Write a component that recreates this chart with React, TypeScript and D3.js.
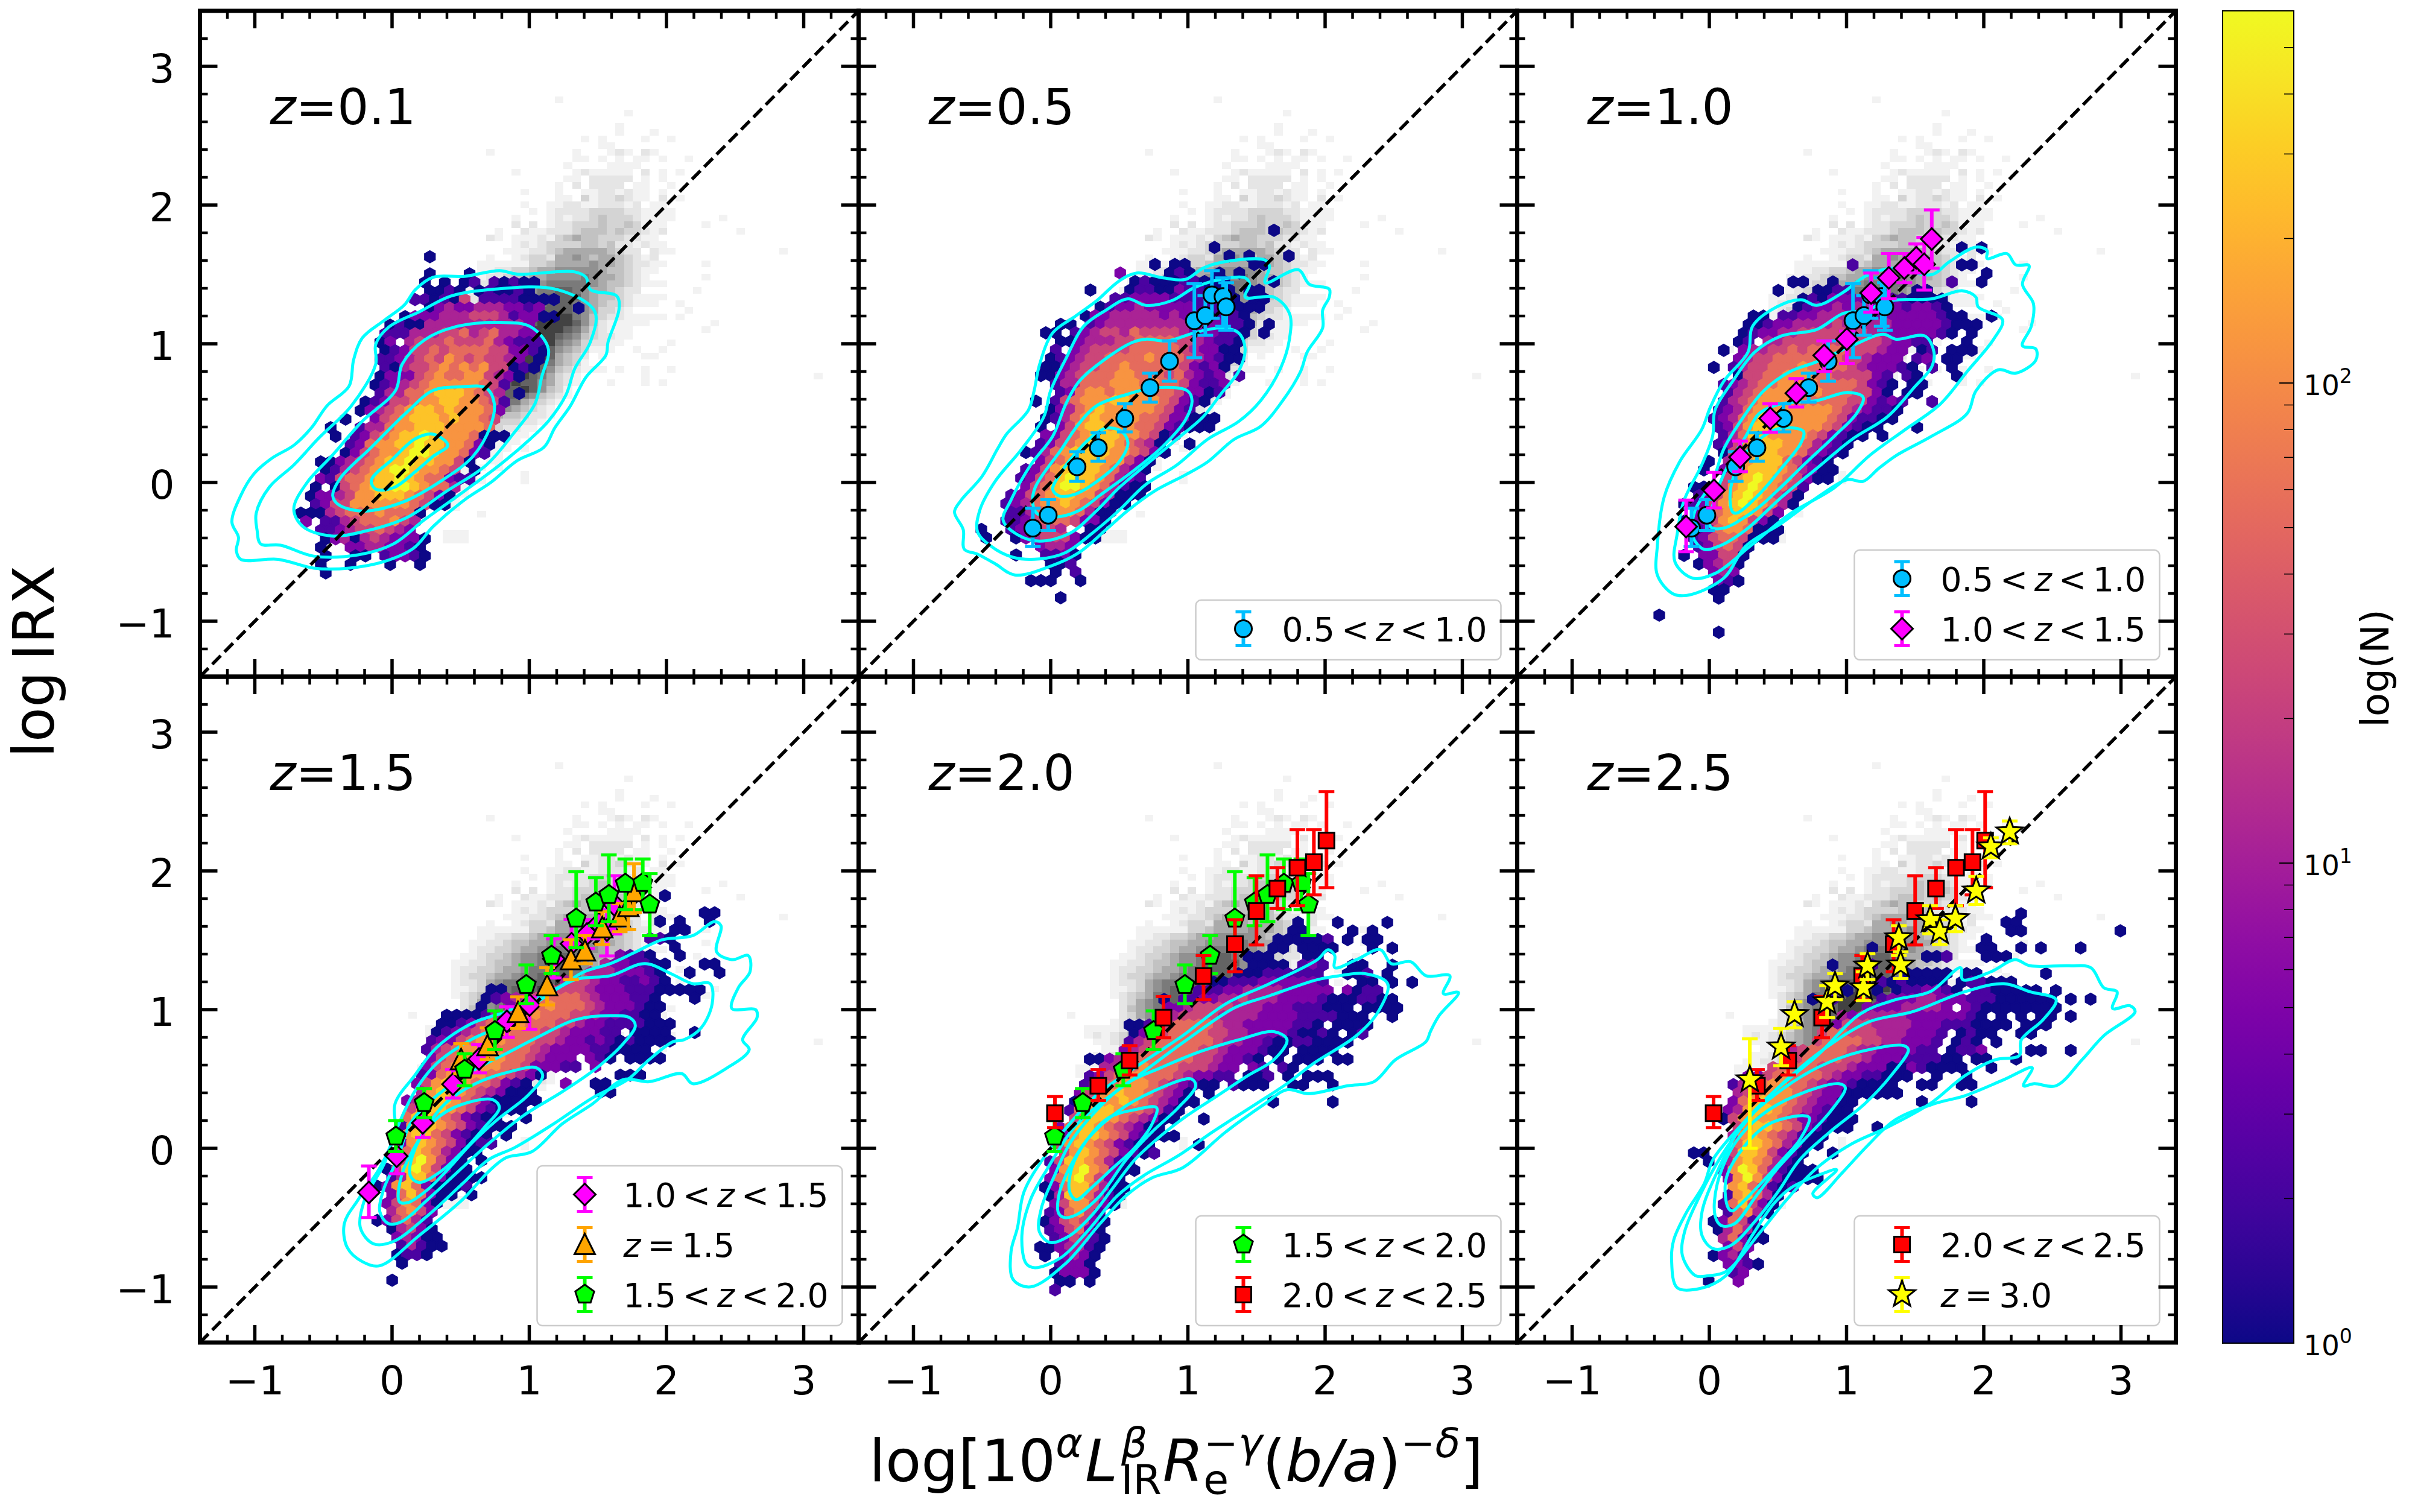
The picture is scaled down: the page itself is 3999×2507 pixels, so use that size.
import React from "react";
import * as d3 from "d3";

type Pt = [number, number];
type Err = [number, number, number, number]; // x, y, top of bar, bottom of bar

const FONT = "DejaVu Sans";

// 2d histogram in the background, one string per row, digit = density level
const grayLevels = [0, 1, 1.8, 3.2, 5.6, 10, 18, 32, 56, 120];
const grayLeft = 0.1177;
const grayTop = 2.783;
const grayDx = 0.0629;
const grayDy = 0.0474;
const grayRows = [
  ".................1",
  "",
  ".........................1",
  "",
  "........................1",
  "........................1...1",
  "....................1.1....1..1",
  "......................11",
  ".........1.........1...121.21",
  "...................11.1.1.11.1..1",
  "..................1....1111",
  "............1......1211111.2.1.1",
  "..................11.22222.1.1",
  ".................1.2.2222.11..1",
  ".............1...1..11221211.1",
  ".................11.31223211.2.1",
  ".............1..11221122212.11",
  "..............1.122223333221111",
  "............1...121223433321111.....1",
  "............2.2.12233343343111....1",
  "..........1..21122234443433212........1",
  ".........21.11121345443332211",
  "............121233334434221211",
  "...........1112234555554322.211............1",
  ".........1..12332556545543212",
  "........1111113345555655432211....1",
  "........112233455666665443211",
  ".......112234455666676554321......1",
  ".......12233455677777654432111",
  "......112334566778876554322......1",
  ".....1122344566788886544321111",
  ".....122334556778887654332111..1",
  ".....123345567788887653321......1",
  ".....1223567788889976432211111.1",
  ".....11235678889999864211111.......1",
  ".....123457788999987532111........1",
  "......23567889999876432211",
  "......2456788999976532211.....1",
  "1.....235678899986543111..1..1",
  ".....1234678899985432.1....11",
  "..1111235678899875431",
  "..121234567899986432111.1..1..1",
  "...11234567899875321.......1...................1",
  "....1134567898865321...1...1.1",
  "...1123456788986431",
  "..11223456788764321",
  ".11112345677754321",
  ".1.12234566654321",
  "..111234455443221",
  "...1112334333221",
  "....11223332211",
  ".....112222111",
  ".....1.122111",
  ".......11111.1",
  "......1.111",
  ".......1.11",
  "......111.1",
  "......11.....1",
  "......111....1",
  ".....11",
  ".....11",
  ".....1",
  ".....1",
  "........1",
  "",
  "",
  "....111",
  "....111",
];

// hexbin counts, one string per hexagon row, digit = log count level
const hexLevels = [0, 1, 2.2, 4.9, 11, 24, 54, 120, 265, 596];
const hexDx = 0.0723;
const hexDy = 0.0616;

const hexRows1 = [
  ".............1",
  "",
  ".............1...1",
  "............1.1.12.21211",
  ".............1121.121121",
  "...........221215.22221111",
  ".............134334443323...1",
  "..........1333444555423311",
  ".........121144444444443",
  "........2224445564564433",
  "........13.45556555643222",
  "........12355656666553321",
  "........223456576565543.1",
  "........2145567676755121",
  "........133356766775431",
  ".......12345677777652",
  "........2446678887654.1",
  "......123556778877652",
  "......134567887877763",
  "....1..3567888787765",
  "...1..24467788877776",
  "...1.2356788987776111",
  ".....236778898877631",
  "....135677899877632",
  "..1134567889887751",
  "..12456789987765.1",
  "..3256678898766322",
  ".1.1567889987664",
  ".133457788876531",
  ".23557777776511",
  "1114566676661",
  "3.2245666754",
  "..2234556543",
  "..13414543331",
  "..1..33443321",
  "..1..11.23321",
  "..1..1...1..1",
  "..1",
];

const hexRows2 = [
  "..............................1",
  "",
  "........................1",
  ".........................1.1...1",
  "..................1.11......11",
  "..............3....121..1.1",
  "................1211122111....1",
  "...........1...12211322111.11",
  "..............2233332222111.11",
  "............12334333332221111",
  "...........13344444343332221",
  "........11.23444444444433221.1",
  ".......11.234554655554333221.1",
  "........1134445566665543221",
  "........2.34555566666543311",
  ".......12345566667666543211",
  ".......1134556676666653231",
  "......1134566677666564323.2",
  "........244666777676653223",
  "........23677677776653312",
  "......1.2567778877765321",
  ".......134678777776532",
  ".......124678777766533111",
  "......1.3578877766532111",
  ".......33567888776512",
  "......2356788876541..1",
  ".....124678888776531",
  "......356788877531",
  ".....2357898876431",
  "....2356898876432",
  ".....3568998764211",
  "...23567887754111",
  "...2346778765311",
  "...22467776411",
  "...22356665331",
  "1..234554..11",
  ".1..134555311",
  "......3443",
  "....1..2231",
  ".......112",
  "........1.2",
  ".....111..1",
  "",
  "........1",
];

const hexRows3 = [
  "...............................1.1",
  "",
  "....................2..........11",
  ".................................1",
  "..............11..1...........2..1",
  "............1...1122......11",
  "...............121333332221111",
  "..............1233434433323321",
  "..........11.2233444433333333211..1",
  ".........112334444544444333332111",
  ".........1233445555545443333321.1",
  "........12.44555555555543322...1",
  ".......1.34455656666555433.12.111",
  "........34556666666554333.23.11",
  "......1.2455666766665433321.2.1",
  "........1556677766555532.21...1",
  ".......234566777766665321.11",
  ".......24567777776665531.11",
  ".......2456777766666553232..2",
  "......2346777777776543221",
  "......2346788877776532211",
  "......23578887777653211...1",
  ".......246887777653211.1",
  "......23578887764321",
  ".......1567887764321",
  ".....1.46788865321",
  ".....1.367888764311",
  ".......57898765311",
  "....113578987652",
  "....23578987541",
  "...123578987641",
  "....346788753",
  "...1335787531",
  "....236776111",
  "....235665111",
  "....235651",
  "...1.33551",
  "....13451",
  "......343",
  "......321",
  "......11",
  "......1",
  "",
  "1",
  "",
  "......1",
];

const hexRows4 = [
  ".............................1",
  "",
  ".................................11",
  "............................1.1..1",
  "..............................11",
  "...........................221",
  "..............................1",
  "........................3221..1",
  ".......................4332211...11",
  ".....................44433321..1..1",
  "...................45543322321",
  "...........11....5555433322211111",
  "...........123445666654333221...1",
  "..........1..3566766654333211",
  ".......1111245667666554332211",
  "......112356667666554332222111",
  "......1234566766655433322.1111..1",
  ".....2335677766655433232121111",
  ".....24567776666543333221111",
  ".....356777776654333.321.1111",
  ".....3567877766533322.3",
  "....2367777665431.......111",
  "....357877665321...3..11",
  "....478776543111......11",
  "...34888765311111",
  "...578876532111",
  "...6887653211..1",
  "..278876532111",
  "..3788653211.1",
  "..3787653122",
  "..368764311",
  "..5897531.1",
  ".158975311",
  ".2488631111",
  "1378631112",
  ".3686311.1",
  ".357631",
  ".46753",
  "135642",
  ".14531",
  "..34311",
  "..24211",
  "..1221",
  "..1",
  "",
  ".1",
];

const hexRows5 = [
  "..........................1...1....1",
  ".........................11....1.1",
  "........................111112.1.11",
  ".......................11.1111...1.1",
  ".....................111...11",
  ".....................1111.232..11..1",
  "....................111222222..112.1",
  ".................112223333332...11.1.1",
  "................22233444433333.3122",
  "............1.2233445444333321112211",
  ".............3345555444333222111.1111",
  "............345555444433332222111..1",
  ".........11235666654433333221.1111",
  ".........134566665544333321121.12",
  ".........24566666654433211221111",
  "........34566666554333211.1111",
  ".....113456666665543321.1.111.11",
  "......44667666555433.32.21",
  ".....235677666543322.112.1.111",
  "....24667776543211.2111..11..1",
  "....357787765431.1",
  "...1467787654311.......1.....1",
  "...267887665421",
  "...57887654311..1",
  "..36887654311",
  "..378876532111",
  "..5787653211....1",
  "..5787653212",
  ".258876421",
  ".378976311",
  ".36897531",
  "136886411",
  ".14886421",
  ".3577531",
  ".236752",
  "1356531",
  ".235631",
  ".235421",
  "1134421",
  "1.3431",
  "..2331",
  ".13331",
  "..11.1",
  ".2",
];

const hexRows6 = [
  ".................................1",
  "...............................11",
  "................................11.........1",
  ".............................1",
  "..................1..........11..1.1...1",
  ".......................112...111",
  "..............1...2",
  ".....................11111.11......1",
  "...................2121111.122111",
  "...............1..1.1223321.2211111.1",
  "............1.2....233344333222111111.1.1",
  ".................333344443.3211111111",
  "...............434444433333321.1.1.11.1",
  "..............355544443332221111.111",
  ".............5665554443332.1211..11",
  "............5666655443332.121.1",
  "..........456666544333322.1223....11..1",
  ".........456666554333222211.11..1",
  "........56666555433311321111..1",
  ".....33567666543322111..1..1",
  "....24567766543321111..11..11",
  "....45777765433111111",
  "....3678776543311......1....1",
  "...3478876543211",
  "...15787765332111",
  "....578876532111..1",
  "....4787654211",
  "....688764311",
  "11..58875321..1",
  ".1.47876421",
  "...3798642111",
  "...3797531111",
  "....7864212",
  "...278641",
  "...268531",
  "...26741",
  "..13652",
  "..14641",
  "...46311",
  "...353",
  "..1342",
  "...3321",
  "....23",
  ".1..3",
];

// data position of the first cell of the top hexagon row, panel by panel
const hexOrigins: Pt[] = [
  [-0.664, 1.627],
  [-0.5415, 1.818],
  [-0.401, 1.692],
  [-0.1077, 1.821],
  [-0.0769, 1.628],
  [-0.1134, 1.691],
];

// density contours
const contours1: Pt[][] = [
  [[-1.167,-.285],[-1.103,-.095],[-1.006,.063],[-.877,.174],[-.716,.268],[-.587,.395],[-.474,.553],[-.313,.695],[-.28,.885],[-.216,1.043],[-.055,1.17],[.09,1.28],[.171,1.391],[.3,1.48],[.526,1.486],[.784,1.527],[.913,1.502],[1.332,1.518],[1.413,1.48],[1.445,1.391],[1.638,1.344],[1.654,1.249],[1.574,1.012],[1.558,.917],[1.413,.759],[1.3,.553],[1.187,.395],[1.106,.253],[.913,.158],[.719,0],[.526,-.127],[.3,-.317],[.155,-.475],[-.055,-.569],[-.313,-.617],[-.571,-.617],[-.829,-.554],[-1.103,-.554],[-1.135,-.49],[-1.119,-.396]],
  [[-.99,-.222],[-.893,-.032],[-.716,.126],[-.538,.316],[-.296,.553],[-.119,.853],[-.119,.996],[-.022,1.122],[.203,1.233],[.429,1.344],[.719,1.391],[1.203,1.391],[1.477,1.233],[1.445,1.012],[1.332,.822],[1.268,.632],[1.139,.442],[1.01,.316],[.784,.126],[.526,-.063],[.236,-.269],[.01,-.443],[-.248,-.522],[-.571,-.531],[-.812,-.452],[-.958,-.443],[-.983,-.348]],
  [[-.716,-.19],[-.619,0],[-.442,.189],[-.216,.442],[.026,.664],[.074,.853],[.236,1.027],[.461,1.122],[.784,1.154],[1.01,1.122],[1.139,.964],[1.09,.759],[1.042,.569],[.881,.348],[.687,.126],[.397,-.063],[.107,-.253],[-.184,-.348],[-.442,-.386],[-.651,-.317]],
  [[-.432,-.095],[-.377,.031],[-.151,.253],[.107,.506],[.3,.664],[.494,.689],[.687,.68],[.745,.569],[.719,.411],[.59,.189],[.365,.016],[.074,-.143],[-.216,-.206],[-.393,-.158]],
  [[-.151,.016],[.01,.174],[.171,.316],[.3,.348],[.407,.269],[.3,.189],[.171,.079],[.01,-.038],[-.119,-.048]],
];
const contours2: Pt[][] = [
  [[-.701,-.213],[-.656,-.132],[-.501,.043],[-.388,.241],[-.324,.346],[-.163,.521],[-.121,.66],[-.082,.847],[.015,1.079],[.176,1.196],[.337,1.312],[.498,1.452],[.627,1.51],[.821,1.475],[.982,1.464],[1.111,1.545],[1.272,1.592],[1.563,1.603],[1.595,1.557],[1.563,1.44],[1.804,1.534],[1.885,1.429],[2.03,1.394],[2.03,1.336],[1.982,1.242],[1.982,1.114],[1.869,.94],[1.821,.8],[1.691,.59],[1.53,.404],[1.337,.311],[1.143,.148],[.982,.055],[.756,-.062],[.563,-.201],[.402,-.341],[.208,-.504],[.015,-.597],[-.259,-.667],[-.405,-.586],[-.534,-.516],[-.63,-.481],[-.637,-.341]],
  [[-.534,-.353],[-.517,-.201],[-.405,.008],[-.211,.241],[-.05,.474],[-.001,.66],[.111,.893],[.24,1.126],[.402,1.242],[.563,1.324],[.692,1.277],[.885,1.312],[1.047,1.405],[1.24,1.464],[1.417,1.475],[1.45,1.429],[1.417,1.336],[1.627,1.336],[1.74,1.219],[1.74,1.033],[1.675,.823],[1.53,.59],[1.369,.439],[1.143,.311],[.918,.125],[.692,-.015],[.498,-.201],[.305,-.364],[.111,-.504],[-.082,-.551],[-.276,-.539],[-.437,-.458]],
  [[-.347,-.271],[-.292,-.132],[-.147,.125],[.015,.334],[.111,.567],[.208,.73],[.402,.893],[.595,1.01],[.692,1.033],[.853,1.021],[1.047,1.079],[1.24,1.114],[1.369,1.079],[1.417,.963],[1.369,.8],[1.24,.637],[1.111,.474],[.918,.311],[.692,.125],[.498,-.038],[.337,-.201],[.144,-.364],[-.082,-.423],[-.243,-.376]],
  [[-.13,-.155],[-.114,-.038],[.079,.241],[.208,.427],[.337,.555],[.563,.637],[.756,.683],[.998,.66],[1.03,.59],[.982,.451],[.821,.264],[.595,.078],[.369,-.085],[.208,-.201],[.047,-.248],[-.098,-.225]],
  [[.015,-.05],[.079,.078],[.208,.241],[.305,.334],[.402,.392],[.515,.369],[.563,.288],[.498,.148],[.337,.008],[.176,-.085],[.063,-.097]],
];
const contours3: Pt[][] = [
  [[-.266,-.802],[-.379,-.667],[-.379,-.458],[-.33,-.108],[-.217,.148],[-.056,.381],[.008,.544],[.105,.73],[.282,.94],[.315,1.126],[.492,1.266],[.669,1.317],[.782,1.277],[.976,1.371],[1.137,1.487],[1.331,1.545],[1.621,1.499],[1.75,1.592],[1.943,1.697],[2.024,1.673],[2.024,1.615],[2.169,1.65],[2.233,1.569],[2.33,1.564],[2.282,1.429],[2.362,1.289],[2.346,1.126],[2.282,.986],[2.379,.963],[2.379,.881],[2.233,.788],[2.104,.812],[1.943,.66],[1.879,.497],[1.621,.334],[1.363,.195],[1.234,.101],[1.121,.008],[1.008,.02],[.75,-.132],[.524,-.295],[.266,-.458],[.105,-.69],[-.153,-.812]],
  [[-.25,-.574],[-.233,-.364],[-.185,-.132],[-.056,.125],[.024,.334],[.041,.521],[.17,.73],[.331,.94],[.524,1.056],[.782,1.103],[.976,1.219],[1.137,1.242],[1.331,1.312],[1.621,1.324],[1.846,1.382],[1.943,1.336],[1.959,1.266],[2.137,1.173],[2.072,1.033],[1.879,.8],[1.685,.567],[1.427,.381],[1.169,.195],[.911,-.038],[.589,-.225],[.299,-.458],[.041,-.656],[-.121,-.69]],
  [[-.121,-.388],[-.104,-.201],[.024,.008],[.105,.241],[.234,.451],[.395,.66],[.589,.8],[.782,.87],[1.04,.986],[1.266,1.068],[1.363,1.033],[1.572,1.056],[1.637,.94],[1.621,.835],[1.492,.684],[1.298,.474],[1.04,.311],[.782,.101],[.524,-.108],[.266,-.341],[.073,-.458],[-.04,-.481]],
  [[.008,-.318],[.041,-.108],[.137,.125],[.266,.334],[.363,.497],[.524,.567],[.782,.59],[1.008,.649],[1.121,.614],[1.073,.497],[.911,.334],[.686,.125],[.492,-.062],[.331,-.201],[.105,-.329]],
  [[.17,-.213],[.153,-.062],[.234,.171],[.395,.334],[.524,.392],[.686,.369],[.669,.288],[.524,.101],[.363,-.085],[.202,-.22]],
];
const contours4: Pt[][] = [
  [[-.348,-.543],[-.247,-.37],[-.089,-.14],[.022,.12],[.022,.322],[.164,.524],[.323,.725],[.576,.898],[.829,.985],[1.019,1.071],[1.209,1.158],[1.4,1.273],[1.589,1.331],[1.779,1.417],[1.969,1.504],[2.191,1.533],[2.349,1.634],[2.397,1.605],[2.365,1.417],[2.476,1.36],[2.596,1.389],[2.609,1.273],[2.524,1.158],[2.476,1.008],[2.65,.999],[2.66,.942],[2.555,.783],[2.603,.711],[2.444,.581],[2.191,.466],[2.112,.538],[1.874,.48],[1.684,.495],[1.463,.322],[1.241,.177],[1.019,-.024],[.829,-.068],[.703,-.168],[.513,-.37],[.196,-.63],[-.089,-.846],[-.216,-.817],[-.326,-.716]],
  [[-.231,-.572],[-.2,-.37],[-.057,-.111],[.038,.149],[.164,.408],[.323,.61],[.576,.783],[.829,.898],[1.083,1.071],[1.336,1.216],[1.589,1.244],[1.843,1.331],[2.033,1.259],[2.191,1.187],[2.318,1.187],[2.333,1.043],[2.254,.87],[2.128,.783],[2.049,.769],[1.874,.639],[1.716,.495],[1.463,.365],[1.178,.177],[.893,.005],[.703,-.082],[.513,-.255],[.259,-.486],[.006,-.673],[-.136,-.688]],
  [[-.089,-.457],[-.057,-.284],[.038,-.082],[.133,.178],[.291,.35],[.576,.552],[.829,.682],[1.083,.812],[1.336,.927],[1.589,.956],[1.732,.942],[1.773,.884],[1.684,.754],[1.494,.581],[1.241,.408],[.956,.235],[.703,.033],[.481,-.168],[.259,-.37],[.069,-.529],[-.026,-.543]],
  [[.054,-.385],[.069,-.197],[.196,.062],[.386,.322],[.608,.466],[.861,.553],[1.051,.581],[1.098,.523],[.988,.379],[.766,.206],[.576,.033],[.418,-.14],[.259,-.298],[.117,-.391]],
  [[.133,-.197],[.149,-.053],[.259,.149],[.449,.293],[.734,.351],[.782,.293],[.671,.149],[.513,-.024],[.354,-.168],[.196,-.246]],
];
const contours5: Pt[][] = [
  [[-.289,-.745],[-.242,-.572],[-.194,-.313],[-.02,-.024],[.138,.177],[.328,.379],[.613,.581],[.962,.812],[1.278,1.043],[1.595,1.187],[1.943,1.36],[2.022,1.432],[2.07,1.389],[2.07,1.302],[2.228,1.36],[2.402,1.432],[2.482,1.331],[2.624,1.345],[2.735,1.244],[2.909,1.244],[2.862,1.115],[2.972,1.123],[2.83,.956],[2.767,.841],[2.735,.769],[2.513,.639],[2.355,.48],[2.165,.451],[1.88,.394],[1.722,.423],[1.563,.322],[1.278,.12],[.962,-.14],[.74,-.212],[.55,-.341],[.36,-.543],[.107,-.832],[-.147,-.999],[-.273,-.947]],
  [[-.178,-.832],[-.21,-.63],[-.147,-.37],[-.02,-.14],[.17,.149],[.36,.322],[.677,.552],[.993,.783],[1.342,1.014],[1.595,1.1],[1.943,1.216],[2.102,1.244],[2.292,1.259],[2.456,1.187],[2.387,.985],[2.228,.812],[1.912,.61],[1.722,.466],[1.5,.322],[1.183,.12],[.93,-.053],[.677,-.197],[.487,-.341],[.265,-.601],[.075,-.788],[-.115,-.861]],
  [[-.083,-.601],[-.067,-.428],[.028,-.197],[.138,.033],[.297,.235],[.55,.466],[.803,.581],[1.088,.697],[1.373,.783],[1.627,.841],[1.722,.783],[1.627,.639],[1.437,.524],[1.215,.379],[.993,.235],[.803,.091],[.613,-.082],[.455,-.284],[.297,-.486],[.138,-.63],[-.004,-.679]],
  [[.059,-.471],[.059,-.341],[.138,-.14],[.265,.062],[.487,.264],[.74,.408],[1.025,.5],[1.057,.451],[.93,.293],[.74,.12],[.55,-.082],[.36,-.341],[.202,-.471],[.107,-.5]],
  [[.138,-.313],[.154,-.14],[.265,.062],[.423,.221],[.613,.278],[.772,.293],[.74,.178],[.613,.005],[.455,-.14],[.297,-.284],[.186,-.37]],
];
const contours6: Pt[][] = [
  [[-.234,-1.005],[-.275,-.803],[-.259,-.659],[-.164,-.457],[-.037,-.255],[.026,-.082],[.216,.149],[.469,.408],[.786,.668],[1.102,.97],[1.356,1.071],[1.609,1.129],[1.831,1.302],[1.847,1.216],[2.052,1.273],[2.227,1.36],[2.337,1.316],[2.622,1.316],[2.781,1.302],[2.875,1.158],[2.971,1.129],[2.939,1.008],[3.066,1.028],[3.103,.985],[2.875,.812],[2.717,.639],[2.527,.451],[2.369,.466],[2.29,.451],[2.353,.581],[2.147,.495],[1.862,.379],[1.641,.322],[1.356,.206],[1.166,.033],[.976,-.168],[.786,-.356],[.754,-.327],[.928,-.154],[.786,-.197],[.596,-.284],[.469,-.399],[.311,-.63],[.121,-.918],[-.069,-1.011]],
  [[-.101,-.918],[-.196,-.774],[-.18,-.601],[-.069,-.341],[.089,-.053],[.279,.206],[.532,.466],[.849,.725],[1.166,.913],[1.482,.985],[1.862,1.129],[2.147,1.187],[2.337,1.129],[2.527,1.071],[2.432,.927],[2.274,.783],[2.258,.668],[2.084,.639],[1.862,.523],[1.609,.322],[1.292,.149],[1.039,.033],[.786,-.14],[.564,-.37],[.374,-.601],[.121,-.889],[-.006,-.918]],
  [[-.053,-.63],[-.053,-.457],[.058,-.168],[.248,.177],[.469,.379],[.786,.581],[1.102,.697],[1.419,.74],[1.451,.711],[1.324,.524],[1.134,.322],[.881,.12],[.659,-.082],[.501,-.313],[.343,-.515],[.153,-.702],[.026,-.722]],
  [[.042,-.486],[.058,-.255],[.184,.033],[.374,.235],[.628,.379],[.944,.466],[.991,.437],[.881,.264],[.691,.062],[.501,-.14],[.343,-.341],[.184,-.543],[.089,-.558]],
  [[.137,-.428],[.121,-.226],[.248,.005],[.438,.177],[.691,.235],[.729,.221],[.659,.062],[.533,-.082],[.374,-.255],[.216,-.414],[.168,-.451]],
];

// observed samples
const blueData: Err[] = [
  [-.13,-.329,-.185,-.462],[-.018,-.236,-.124,-.346],[.192,.113,.222,.008],[.347,.25,.358,.153],
  [.54,.462,.567,.365],[.724,.684,.788,.579],[.866,.874,1.021,.73],[1.047,1.166,1.433,.9],
  [1.127,1.203,1.347,1.061],[1.175,1.352,1.527,1.184],[1.256,1.34,1.475,1.126],[1.279,1.266,1.44,1.098],
];
const magentaData: Err[] = [
  [-.169,-.318,-.127,-.499],[.034,-.057,.073,-.183],[.224,.183,.299,.078],[.444,.462,.567,.362],
  [.634,.644,.749,.544],[.837,.916,1.021,.8],[1.002,1.033,1.091,.858],[1.179,1.366,1.51,1.228],
  [1.308,1.475,1.65,1.324],[1.421,1.545,1.65,1.44],[1.508,1.62,1.72,1.51],[1.566,1.573,1.767,1.387],
  [1.621,1.755,1.965,1.545],
];
const orangeData: Err[] = [
  [.503,.639,.754,.538],[.696,.74,.869,.64],[.918,.979,1.092,.864],[1.13,1.172,1.302,1.034],
  [1.304,1.36,1.504,1.215],[1.406,1.423,1.533,1.331],[1.532,1.59,1.706,1.469],[1.659,1.668,1.764,1.562],
  [1.722,1.743,1.864,1.576],[1.763,1.85,2.052,1.7],
];
const greenData: Err[] = [
  [.028,.085,.2,-.024],[.234,.327,.431,.221],[.529,.567,.682,.451],[.75,.846,.991,.711],
  [.978,1.178,1.322,1.043],[1.162,1.389,1.533,1.259],[1.342,1.657,1.994,1.446],[1.485,1.772,1.951,1.605],
  [1.58,1.827,2.115,1.634],[1.7,1.908,2.086,1.72],[1.827,1.913,2.086,1.72],[1.878,1.758,1.98,1.533],
];
const redData: Err[] = [
  [.031,.253,.373,.149],[.347,.451,.567,.345],[.575,.633,.74,.529],[.822,.942,1.094,.797],
  [1.114,1.242,1.389,1.071],[1.343,1.472,1.648,1.273],[1.5,1.711,1.965,1.466],[1.652,1.873,2.023,1.729],
  [1.798,2.023,2.297,1.749],[1.918,2.063,2.297,1.827],[2.01,2.219,2.571,1.879],
];
const yellowData: Err[] = [
  [.295,.495,.789,0],[.523,.731,.864,.596],[.621,.965,1.057,.869],[.858,1.057,1.172,.942],
  [.916,1.172,1.259,1.071],[1.124,1.158,1.273,1.066],[1.153,1.316,1.403,1.216],[1.381,1.518,1.605,1.389],
  [1.394,1.322,1.417,1.224],[1.609,1.648,1.749,1.547],[1.679,1.562,1.648,1.469],[1.793,1.657,1.749,1.562],
  [1.945,1.856,1.96,1.758],[2.052,2.173,2.239,2.095],[2.189,2.282,2.36,2.196],
];

const panelNames = ["0.1", "0.5", "1.0", "1.5", "2.0", "2.5"];
const majorTicks = [-1, 0, 1, 2, 3];
const minorTicks = d3.range(-1.4, 3.41, 0.2).map((v) => +v.toFixed(1)).filter((v) => !majorTicks.includes(v));
const cbarMajor = [1, 10, 100];
const cbarMinor = [2, 3, 4, 5, 6, 7, 8, 9, 20, 30, 40, 50, 60, 70, 80, 90, 200, 300, 400, 500];

const line = d3.line();
const radial = (radii: number[], n: number) =>
  line(d3.range(n).map((i) => {
    const a = (i * 2 * Math.PI) / n;
    const r = radii[i % radii.length];
    return [r * Math.sin(a), -r * Math.cos(a)] as Pt;
  })) + "Z";

const series: Record<string, { data: Err[]; color: string; label: string; shape: string }> = {
  blue: { data: blueData, color: "#00bfff", label: "0.5<z<1.0", shape: d3.symbol(d3.symbolCircle, Math.PI * 14 * 14)()! },
  magenta: { data: magentaData, color: "#ff00ff", label: "1.0<z<1.5", shape: radial([18], 4) },
  orange: { data: orangeData, color: "#ffa500", label: "z=1.5", shape: line([[0, -18], [17, 16], [-17, 16]]) + "Z" },
  green: { data: greenData, color: "#00ff00", label: "1.5<z<2.0", shape: radial([16.5], 5) },
  red: { data: redData, color: "#ff0000", label: "2.0<z<2.5", shape: d3.symbol(d3.symbolSquare, 26 * 26)()! },
  yellow: { data: yellowData, color: "#ffff00", label: "z=3.0", shape: radial([23, 9.6], 10) },
};

const panels = [
  { hex: hexRows1, lines: contours1, show: [] as string[] },
  { hex: hexRows2, lines: contours2, show: ["blue"] },
  { hex: hexRows3, lines: contours3, show: ["blue", "magenta"] },
  { hex: hexRows4, lines: contours4, show: ["magenta", "orange", "green"] },
  { hex: hexRows5, lines: contours5, show: ["green", "red"] },
  { hex: hexRows6, lines: contours6, show: ["red", "yellow"] },
];

const panelW = 1092;
const panelH = 1104;
const left0 = 331.5;
const tops = [18, 1122];

const x = d3.scaleLinear().domain([-1.4, 3.4]).range([0, panelW]);
const y = d3.scaleLinear().domain([-1.4, 3.4]).range([panelH, 0]);
const hexColor = d3.scaleSequentialLog(d3.interpolatePlasma).domain([1, 596]);
const grayColor = d3.scaleSequentialLog(d3.interpolateGreys).domain([0.5, 500]);
const contourLine = d3.line<Pt>().x((d) => x(d[0])).y((d) => y(d[1])).curve(d3.curveCatmullRomClosed.alpha(0.5));

const hexW = x(hexDx) - x(0);
const hexStep = y(0) - y(hexDy);
const hexPath = line([
  [0, -hexStep / 1.5],
  [hexW / 2, -hexStep / 3],
  [hexW / 2, hexStep / 3],
  [0, hexStep / 1.5],
  [-hexW / 2, hexStep / 3],
  [-hexW / 2, -hexStep / 3],
]) + "Z";

function GrayCells() {
  const cells: React.ReactElement[] = [];
  grayRows.forEach((row, j) => {
    row.split("").forEach((c, i) => {
      if (c === ".") return;
      const cx = grayLeft + i * grayDx;
      const cy = grayTop - j * grayDy;
      cells.push(
        <rect key={j + "-" + i} x={x(cx)} y={y(cy)} width={x(grayDx) - x(0)} height={y(0) - y(grayDy)} fill={grayColor(grayLevels[+c])} shapeRendering="crispEdges" />
      );
    });
  });
  return <g>{cells}</g>;
}

function HexCells({ rows, origin }: { rows: string[]; origin: Pt }) {
  const cells: React.ReactElement[] = [];
  rows.forEach((row, r) => {
    row.split("").forEach((c, i) => {
      if (c === ".") return;
      const hx = origin[0] + (i + (r % 2) * 0.5) * hexDx;
      const hy = origin[1] - r * hexDy;
      const col = hexColor(hexLevels[+c]);
      cells.push(<path key={r + "-" + i} d={hexPath} transform={`translate(${x(hx)},${y(hy)})`} fill={col} stroke={col} strokeWidth={2.8} />);
    });
  });
  return <g>{cells}</g>;
}

function ErrorMark({ px, top, mid, bottom, s }: { px: number; top: number; mid: number; bottom: number; s: { color: string; shape: string } }) {
  return (
    <g>
      <line x1={px} x2={px} y1={top} y2={bottom} stroke={s.color} strokeWidth={6} />
      <line x1={px - 13} x2={px + 13} y1={top} y2={top} stroke={s.color} strokeWidth={5} />
      <line x1={px - 13} x2={px + 13} y1={bottom} y2={bottom} stroke={s.color} strokeWidth={5} />
      <path d={s.shape} transform={`translate(${px},${mid})`} fill={s.color} stroke="#000" strokeWidth={3} strokeLinejoin="miter" />
    </g>
  );
}

// "0.5<z<1.0" -> pieces with an italic z and thin gaps round the relations
function MathLabel({ text, tx, ty, size }: { text: string; tx: number; ty: number; size: number }) {
  const parts = text.split(/([<=z])/).filter((p) => p !== "");
  return (
    <text x={tx} y={ty} fontSize={size} fontFamily={FONT}>
      {parts.map((p, i) => (
        <tspan key={i} dx={i === 0 ? 0 : 11} fontStyle={p === "z" ? "italic" : "normal"}>{p}</tspan>
      ))}
    </text>
  );
}

function Legend({ names }: { names: string[] }) {
  const boxW = 506;
  const rowH = 83;
  const boxH = names.length * rowH + 16;
  const bx = panelW - 27 - boxW;
  const by = panelH - 28 - boxH;
  return (
    <g>
      <rect x={bx} y={by} width={boxW} height={boxH} rx={9} fill="#fff" fillOpacity={0.8} stroke="#ccc" strokeWidth={2.5} />
      {names.map((n, i) => {
        const cy = by + 7 + rowH * i + rowH / 2 - 1;
        return (
          <g key={n}>
            <ErrorMark px={bx + 79} top={cy - 28} mid={cy} bottom={cy + 28} s={series[n]} />
            <MathLabel text={series[n].label} tx={bx + 143} ty={cy + 20} size={55} />
          </g>
        );
      })}
    </g>
  );
}

function Ticks() {
  const tick = (v: number, len: number, w: number, k: string) => (
    <g key={k} stroke="#000" strokeWidth={w}>
      <line x1={x(v)} x2={x(v)} y1={0} y2={len} />
      <line x1={x(v)} x2={x(v)} y1={panelH} y2={panelH - len} />
      <line y1={y(v)} y2={y(v)} x1={0} x2={len} />
      <line y1={y(v)} y2={y(v)} x1={panelW} x2={panelW - len} />
    </g>
  );
  return (
    <g>
      {majorTicks.map((v) => tick(v, 29, 5.5, "M" + v))}
      {minorTicks.map((v) => tick(v, 13, 4.5, "m" + v))}
    </g>
  );
}

function Panel({ index }: { index: number }) {
  const p = panels[index];
  const col = index % 3;
  const row = Math.floor(index / 3);
  const z = (v: number) => (v < 0 ? "\u2212" + -v : String(v));
  return (
    <g transform={`translate(${left0 + col * panelW},${tops[row]})`}>
      <GrayCells />
      <HexCells rows={p.hex} origin={hexOrigins[index]} />
      {p.lines.map((l, i) => (
        <path key={i} d={contourLine(l)!} fill="none" stroke="#00ffff" strokeWidth={5} />
      ))}
      <line x1={x(-1.4)} y1={y(-1.4)} x2={x(3.4)} y2={y(3.4)} stroke="#000" strokeWidth={5.5} strokeDasharray="20 9" />
      {p.show.map((n) =>
        series[n].data.map((d, i) => (
          <ErrorMark key={n + i} px={x(d[0])} mid={y(d[1])} top={y(d[2])} bottom={y(d[3])} s={series[n]} />
        ))
      )}
      {p.show.length > 0 && <Legend names={p.show} />}
      <rect x={0} y={0} width={panelW} height={panelH} fill="none" stroke="#000" strokeWidth={7} />
      <Ticks />
      <text x={116} y={188} fontSize={82} fontFamily={FONT}>
        <tspan fontStyle="italic">z</tspan>={panelNames[index]}
      </text>
      {col === 0 &&
        majorTicks.map((v) => (
          <text key={v} x={-42} y={y(v) + 27} fontSize={66} fontFamily={FONT} textAnchor="end">{z(v)}</text>
        ))}
      {row === 1 &&
        majorTicks.map((v) => (
          <text key={v} x={x(v)} y={panelH + 86} fontSize={66} fontFamily={FONT} textAnchor="middle">{z(v)}</text>
        ))}
    </g>
  );
}

function ColorBar() {
  const cx0 = 3685;
  const cx1 = 3803;
  const c = d3.scaleLog().domain([1, 596]).range([2227, 18]);
  const stops = d3.range(0, 1.001, 0.05);
  return (
    <g>
      <defs>
        <linearGradient id="plasmaBar" x1="0" y1="1" x2="0" y2="0">
          {stops.map((t) => (
            <stop key={t} offset={t} stopColor={d3.interpolatePlasma(t)} />
          ))}
        </linearGradient>
      </defs>
      <rect x={cx0} y={18} width={cx1 - cx0} height={2209} fill="url(#plasmaBar)" stroke="#000" strokeWidth={2} />
      {cbarMinor.map((v) => (
        <line key={v} x1={cx1} x2={cx1 - 16} y1={c(v)} y2={c(v)} stroke="#000" strokeWidth={1.5} />
      ))}
      {cbarMajor.map((v, i) => (
        <g key={v}>
          <line x1={cx1} x2={cx1 - 24} y1={c(v)} y2={c(v)} stroke="#000" strokeWidth={2} />
          <text x={3819} y={c(v) + 20} fontSize={47} fontFamily={FONT}>
            10<tspan dy={-20} fontSize={33}>{i}</tspan>
          </text>
        </g>
      ))}
      <text transform="translate(3960,1108) rotate(-90)" fontSize={64} fontFamily={FONT} textAnchor="middle">log(N)</text>
    </g>
  );
}

export default function App() {
  return (
    <svg width={3999} height={2507} viewBox="0 0 3999 2507" style={{ position: "absolute", left: 0, top: 0, background: "#fff" }}>
      {panels.map((_, i) => (
        <Panel key={i} index={i} />
      ))}
      <ColorBar />
      <text transform="translate(89,1097) rotate(-90)" fontSize={94} fontFamily={FONT} textAnchor="middle">
        log<tspan dx={-12}> </tspan>IRX
      </text>
      <text x={1441} y={2456} fontSize={97} fontFamily={FONT}>
        log[10
        <tspan dy={-40} fontSize={68} fontStyle="italic">α</tspan>
        <tspan dy={40} dx={4} fontStyle="italic">L</tspan>
        <tspan dy={-40} dx={6} fontSize={68} fontStyle="italic">β</tspan>
        <tspan dx={-44} dy={61} fontSize={68}>IR</tspan>
        <tspan dy={-21} dx={2} fontStyle="italic">R</tspan>
        <tspan dy={21} fontSize={68}>e</tspan>
        <tspan dx={-41} dy={-61} fontSize={68}>−</tspan>
        <tspan fontSize={68} fontStyle="italic">γ</tspan>
        <tspan dy={40}>(</tspan>
        <tspan fontStyle="italic">b/a</tspan>
        <tspan>)</tspan>
        <tspan dy={-40} fontSize={68}>−</tspan>
        <tspan fontSize={68} fontStyle="italic">δ</tspan>
        <tspan dy={40}>]</tspan>
      </text>
    </svg>
  );
}
